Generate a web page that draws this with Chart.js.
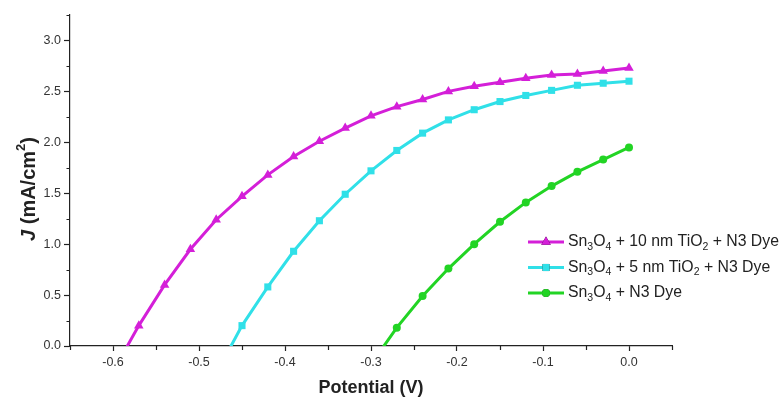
<!DOCTYPE html>
<html>
<head>
<meta charset="utf-8">
<script src="https://cdn.jsdelivr.net/npm/chart.js@4"></script>
<style>
  html, body { margin: 0; padding: 0; background: #fff; }
  #wrap { width: 783px; height: 398px; }
</style>
</head>
<body>
<div id="wrap"><canvas id="jvChart" width="783" height="398"></canvas></div>
<script>
// Values (first point of each series sits below 0 and is clipped)
const tio10V = [-0.60, -0.57, -0.54, -0.51, -0.48, -0.45, -0.42, -0.39, -0.36, -0.33, -0.30, -0.27, -0.24, -0.21, -0.18, -0.15, -0.12, -0.09, -0.06, -0.03, 0.00];
const tio10J = [-0.25, 0.20, 0.60, 0.95, 1.24, 1.47, 1.68, 1.86, 2.01, 2.14, 2.26, 2.35, 2.42, 2.50, 2.55, 2.59, 2.63, 2.66, 2.67, 2.70, 2.73];

const tio5V = [-0.48, -0.45, -0.42, -0.39, -0.36, -0.33, -0.30, -0.27, -0.24, -0.21, -0.18, -0.15, -0.12, -0.09, -0.06, -0.03, 0.00];
const tio5J = [-0.27, 0.20, 0.58, 0.93, 1.23, 1.49, 1.72, 1.92, 2.09, 2.22, 2.32, 2.40, 2.46, 2.51, 2.56, 2.58, 2.60];

const bareV = [-0.30, -0.27, -0.24, -0.21, -0.18, -0.15, -0.12, -0.09, -0.06, -0.03, 0.00];
const bareJ = [-0.18, 0.18, 0.49, 0.76, 1.00, 1.22, 1.41, 1.57, 1.71, 1.83, 1.95];

const seriesLabels = ['Sn3O4 + 10 nm TiO2 + N3 Dye', 'Sn3O4 + 5 nm TiO2 + N3 Dye', 'Sn3O4 + N3 Dye'];
// legend text split into [text, isSubscript] pieces
const legendParts = [
  [['Sn', 0], ['3', 1], ['O', 0], ['4', 1], [' + 10 nm TiO', 0], ['2', 1], [' + N3 Dye', 0]],
  [['Sn', 0], ['3', 1], ['O', 0], ['4', 1], [' + 5 nm TiO', 0], ['2', 1], [' + N3 Dye', 0]],
  [['Sn', 0], ['3', 1], ['O', 0], ['4', 1], [' + N3 Dye', 0]]
];

const FONT = '"Liberation Sans", Arial, sans-serif';
const INK = '#222';
const CLEAR = 'rgba(0,0,0,0)';

function pairs(xs, ys) {
  return xs.map((x, i) => ({ x: x, y: ys[i] }));
}

function makeSet(label, xs, ys, color, style, radius) {
  return {
    label: label,
    data: pairs(xs, ys),
    borderColor: color,
    backgroundColor: color,
    borderWidth: 3,
    pointStyle: style,
    pointRadius: radius,
    pointBorderWidth: 0,
    pointHoverRadius: radius,
    tension: 0
  };
}

const isMajor = (v, step) => Math.abs(v / step - Math.round(v / step)) < 1e-6;

// titles, short minor ticks and legend drawn by hand (italic J, subscripts)
const decorations = {
  id: 'decorations',
  afterDraw(chart) {
    const ctx = chart.ctx;
    const area = chart.chartArea;
    const xs = chart.scales.x;
    const ys = chart.scales.y;

    // minor ticks
    ctx.save();
    ctx.strokeStyle = INK;
    ctx.lineWidth = 1.2;
    ctx.beginPath();
    xs.ticks.forEach(t => {
      if (isMajor(t.value, 0.1)) return;
      const px = Math.round(xs.getPixelForValue(t.value)) + 0.5;
      ctx.moveTo(px, area.bottom);
      ctx.lineTo(px, area.bottom + 4);
    });
    ys.ticks.forEach(t => {
      if (isMajor(t.value, 0.5)) return;
      const py = Math.round(ys.getPixelForValue(t.value)) + 0.5;
      ctx.moveTo(area.left, py);
      ctx.lineTo(area.left - 3.5, py);
    });
    ctx.stroke();
    ctx.restore();

    // y title
    ctx.save();
    const yParts = [['J', 'italic bold 20px'], [' (mA/cm', 'bold 20px'], ['2', 'bold 13px', -8], [')', 'bold 20px']];
    let total = 0;
    yParts.forEach(p => { ctx.font = p[1] + ' ' + FONT; total += ctx.measureText(p[0]).width; });
    ctx.translate(29, 189);
    ctx.rotate(-Math.PI / 2);
    ctx.fillStyle = INK;
    ctx.textBaseline = 'middle';
    let px = -total / 2;
    yParts.forEach(p => {
      ctx.font = p[1] + ' ' + FONT;
      ctx.fillText(p[0], px, p[2] || 0);
      px += ctx.measureText(p[0]).width;
    });
    ctx.restore();

    // x title
    ctx.save();
    ctx.font = 'bold 18px ' + FONT;
    ctx.fillStyle = INK;
    ctx.textAlign = 'center';
    ctx.textBaseline = 'middle';
    ctx.fillText('Potential (V)', (area.left + area.right) / 2, 388);
    ctx.restore();

    // legend
    ctx.save();
    const rows = [242, 267.5, 293];
    chart.data.datasets.forEach((ds, i) => {
      const y = rows[i];
      ctx.strokeStyle = ds.borderColor;
      ctx.lineWidth = 3;
      ctx.beginPath();
      ctx.moveTo(528, y);
      ctx.lineTo(564, y);
      ctx.stroke();
      Chart.helpers.drawPoint(ctx, { pointStyle: ds.pointStyle, radius: ds.pointRadius, borderWidth: 0, rotation: 0 }, 546, y);
      ctx.fillStyle = ds.backgroundColor;
      ctx.fill();

      let tx = 568;
      ctx.fillStyle = INK;
      ctx.textBaseline = 'middle';
      legendParts[i].forEach(p => {
        ctx.font = (p[1] ? '10.5px ' : '15.8px ') + FONT;
        ctx.fillText(p[0], tx, p[1] ? y + 5 : y);
        tx += ctx.measureText(p[0]).width;
      });
    });
    ctx.restore();
  }
};

new Chart(document.getElementById('jvChart').getContext('2d'), {
  type: 'line',
  data: {
    datasets: [
      makeSet(seriesLabels[0], tio10V, tio10J, '#d41fd8', 'triangle', 5.5),
      makeSet(seriesLabels[1], tio5V, tio5J, '#30e0e8', 'rect', 5),
      makeSet(seriesLabels[2], bareV, bareJ, '#22d424', 'circle', 4)
    ]
  },
  options: {
    responsive: false,
    animation: false,
    layout: { padding: { left: 0, top: 15, right: 111, bottom: 0 } },
    plugins: { legend: { display: false }, tooltip: { enabled: false } },
    scales: {
      x: {
        type: 'linear',
        min: -0.65,
        max: 0.05,
        afterFit(scale) { scale.height = 52; },
        border: { display: true, color: INK, width: 1.2 },
        grid: {
          drawOnChartArea: false,
          drawTicks: true,
          tickLength: 5,
          tickWidth: 1.2,
          tickColor: c => isMajor(c.tick.value, 0.1) ? INK : CLEAR
        },
        ticks: {
          stepSize: 0.05,
          padding: 4,
          color: '#333',
          font: { family: FONT, size: 12.5 },
          maxRotation: 0,
          autoSkip: false,
          callback: v => isMajor(v, 0.1) ? v.toFixed(1) : ''
        }
      },
      y: {
        min: 0,
        max: 3.25,
        afterFit(scale) { scale.width = 70; },
        border: { display: true, color: INK, width: 1.2 },
        grid: {
          drawOnChartArea: false,
          drawTicks: true,
          tickLength: 6,
          tickWidth: 1.2,
          tickColor: c => isMajor(c.tick.value, 0.5) ? INK : CLEAR
        },
        ticks: {
          stepSize: 0.25,
          padding: 3,
          color: '#333',
          font: { family: FONT, size: 12.5 },
          autoSkip: false,
          callback: v => isMajor(v, 0.5) ? v.toFixed(1) : ''
        }
      }
    }
  },
  plugins: [decorations]
});
</script>
</body>
</html>
